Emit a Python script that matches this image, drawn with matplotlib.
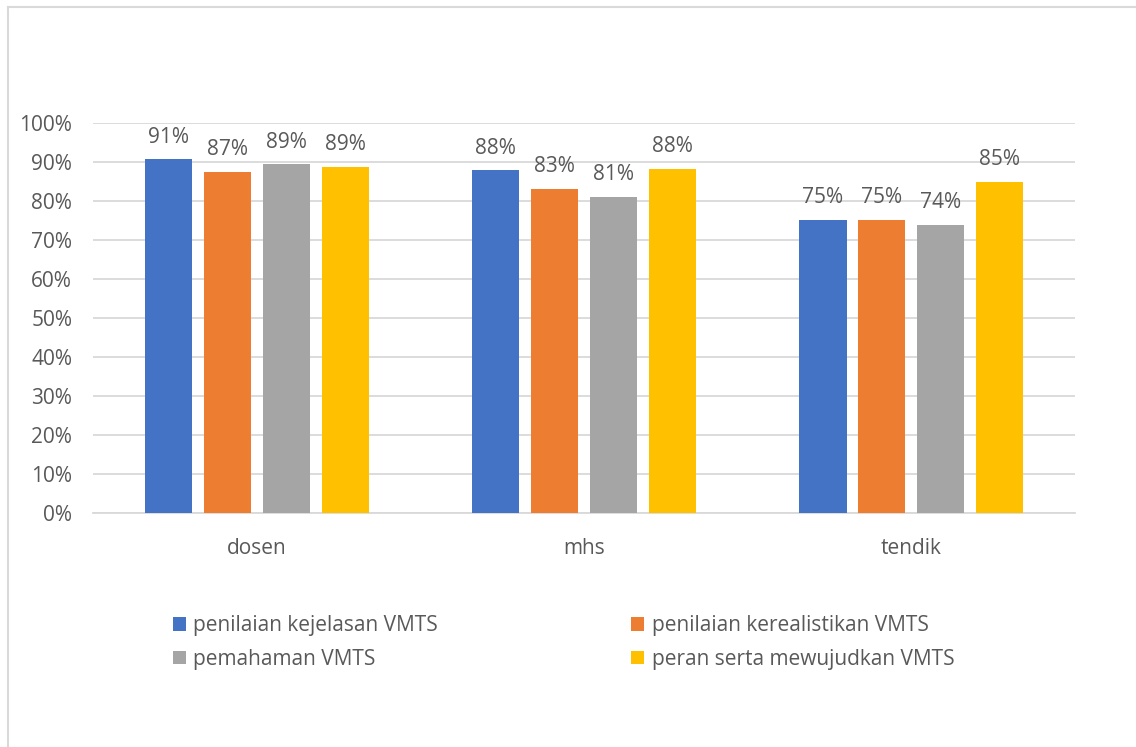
import matplotlib.pyplot as plt
import numpy as np
from matplotlib.lines import Line2D
from matplotlib.ticker import PercentFormatter

plt.rcParams['font.family'] = ['Open Sans', 'DejaVu Sans']

groups = ['dosen', 'mhs', 'tendik']
series = ['penilaian kejelasan VMTS', 'penilaian kerealistikan VMTS',
          'pemahaman VMTS', 'peran serta mewujudkan VMTS']
colors = ['#4472C4', '#ED7D31', '#A5A5A5', '#FFC000']

kejelasan = [0.907, 0.879, 0.751]
kerealistikan = [0.874, 0.832, 0.751]
pemahaman = [0.894, 0.810, 0.738]
peran_serta = [0.887, 0.882, 0.849]
values = [kejelasan, kerealistikan, pemahaman, peran_serta]

txt = '#595959'
grid = '#D9D9D9'
fs = 15

fig = plt.figure(figsize=(11.36, 7.47), dpi=100)
ax = fig.add_axes([0.0819, 0.3133, 0.8644, 0.522])

x = np.arange(len(groups))
w = 0.144
step = 0.18
bars = []
for i, (name, vals) in enumerate(zip(series, values)):
    b = ax.bar(x + (i - 1.5) * step, vals, w, color=colors[i], label=name, zorder=3)
    bars.append(b)
    for xi, v in zip(x + (i - 1.5) * step, vals):
        ax.text(xi, v + 0.03, f'{round(v * 100)}%', ha='center', va='bottom',
                fontsize=fs, color=txt)

ax.set_xlim(-0.5, 2.5)
ax.set_ylim(0, 1)
ax.set_yticks(np.arange(0, 1.01, 0.1))
ax.yaxis.set_major_formatter(PercentFormatter(1.0, decimals=0))
ax.set_xticks(x)
ax.set_xticklabels(groups)
ax.tick_params(length=0, labelsize=fs, colors=txt)
ax.tick_params(axis='x', pad=18)
ax.tick_params(axis='y', pad=15)
ax.grid(axis='y', color=grid, linewidth=1.3, zorder=0)
for s in ['top', 'right', 'left']:
    ax.spines[s].set_visible(False)
ax.spines['bottom'].set_color(grid)
ax.spines['bottom'].set_linewidth(1.3)

# legend laid out row-wise like the original
order = [0, 2, 1, 3]
leg = fig.legend([bars[k] for k in order], [series[k] for k in order],
                 ncol=2, loc='upper left', bbox_to_anchor=(0.1428, 0.19),
                 frameon=False, fontsize=fs, handlelength=0.62, handleheight=0.62,
                 handletextpad=0.35, columnspacing=9.3, labelspacing=0.6,
                 borderpad=0)
for t in leg.get_texts():
    t.set_color(txt)

# outer chart frame (only left and top edges are visible)
fig.add_artist(Line2D([0.007, 0.007], [0, 0.991], color=grid, linewidth=1.5))
fig.add_artist(Line2D([0.007, 1.0], [0.991, 0.991], color=grid, linewidth=1.5))

fig.savefig('out.png', dpi=100)
